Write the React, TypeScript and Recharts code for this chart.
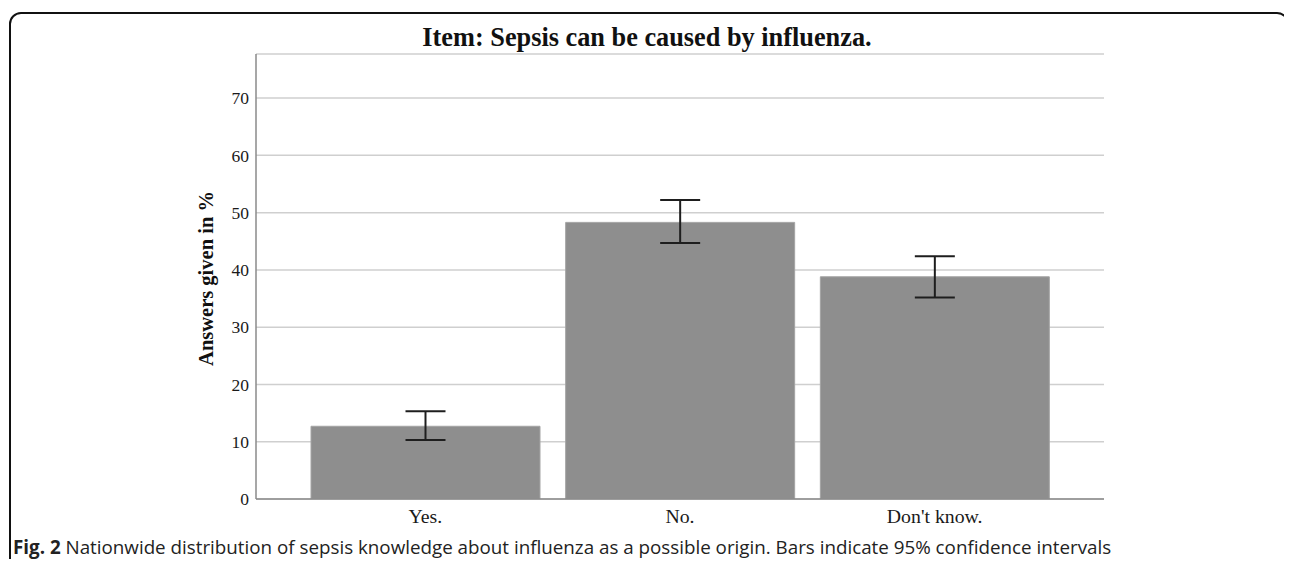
import React from "react";
import { BarChart, Bar, XAxis, YAxis, CartesianGrid, ErrorBar } from "recharts";

// Survey answers (percent) with 95% confidence interval bounds
const categories = ["Yes.", "No.", "Don't know."];
const percentages = [12.7, 48.3, 38.8];
const ciLower = [10.3, 44.7, 35.2];
const ciUpper = [15.3, 52.2, 42.4];
const yTicks = [0, 10, 20, 30, 40, 50, 60, 70];

const rows = categories.map((name, i) => ({
  name,
  value: percentages[i],
  ci: [percentages[i] - ciLower[i], ciUpper[i] - percentages[i]],
}));

const serif = "'Liberation Serif', 'Times New Roman', serif";

const YLabel = (props: any) => {
  const vb = props.viewBox || {};
  const cx = 206;
  const cy = vb.y + vb.height / 2 + 2;
  return (
    <text
      x={cx}
      y={cy}
      transform={`rotate(-90, ${cx}, ${cy})`}
      textAnchor="middle"
      dominantBaseline="central"
      fontFamily={serif}
      fontWeight="bold"
      fontSize={20.5}
      fill="#111"
    >
      Answers given in %
    </text>
  );
};

export default function App() {
  return (
    <div
      style={{
        position: "relative",
        width: 1292,
        height: 567,
        margin: -8,
        overflow: "hidden",
        background: "#fff",
      }}
    >
      <div
        style={{
          position: "absolute",
          left: 9,
          top: 12,
          width: 1280,
          height: 600,
          border: "2px solid #111",
          borderRadius: 12,
          boxSizing: "border-box",
        }}
      />
      <div
        style={{
          position: "absolute",
          left: 647 - 350,
          width: 700,
          top: 24,
          textAlign: "center",
          fontFamily: serif,
          fontWeight: "bold",
          fontSize: 26.3,
          color: "#111",
          lineHeight: "28px",
        }}
      >
        Item: Sepsis can be caused by influenza.
      </div>
      <div style={{ position: "absolute", left: 0, top: 0 }}>
        <BarChart
          width={1292}
          height={567}
          data={rows}
          margin={{ top: 54, right: 188, bottom: 38, left: 196 }}
        >
          <CartesianGrid
            horizontal
            vertical={false}
            stroke="#cfcfcf"
            strokeWidth={1.5}
          />
          <XAxis
            dataKey="name"
            height={30}
            padding={{ left: 42, right: 42 }}
            tickLine={false}
            tickSize={0}
            tickMargin={10}
            axisLine={{ stroke: "#8a8a8a", strokeWidth: 1.5 }}
            tick={{ fontFamily: serif, fontSize: 19.8, fill: "#1a1a1a" }}
          />
          <YAxis
            width={60}
            domain={[0, 77.7]}
            ticks={yTicks}
            allowDataOverflow
            tickLine={false}
            tickSize={0}
            tickMargin={7}
            axisLine={{ stroke: "#8a8a8a", strokeWidth: 1.5 }}
            tick={{ fontFamily: serif, fontSize: 17.5, fill: "#1a1a1a" }}
            label={<YLabel />}
          />
          <Bar
            dataKey="value"
            fill="#8e8e8e"
            stroke="#a4a4a4"
            strokeWidth={1}
            barSize={229}
            isAnimationActive={false}
          >
            <ErrorBar
              dataKey="ci"
              direction="y"
              width={20}
              stroke="#1e1e1e"
              strokeWidth={2}
              isAnimationActive={false}
            />
          </Bar>
        </BarChart>
      </div>
      <div
        style={{
          position: "absolute",
          left: 13,
          top: 536,
          fontFamily: "'Open Sans', sans-serif",
          fontSize: 18.8,
          color: "#222",
          whiteSpace: "nowrap",
          lineHeight: "22px",
        }}
      >
        <b>Fig. 2</b> Nationwide distribution of sepsis knowledge about influenza as a possible origin. Bars indicate 95% confidence intervals
      </div>
    </div>
  );
}
